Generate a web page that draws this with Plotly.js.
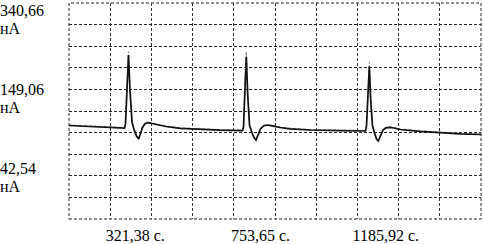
<!DOCTYPE html>
<html><head><meta charset="utf-8">
<script src="https://cdn.plot.ly/plotly-3.0.1.min.js"></script>
<style>html,body{margin:0;padding:0;background:#fff}</style>
</head><body><div id="chart" style="width:483px;height:244px"></div>
<script>
// time, s
const timeS = [92.7,165.2,237.7,284.2,287.7,292.9,298.0,303.2,310.1,317.0,325.7,333.3,339.5,346.4,355.0,365.4,379.2,399.9,427.5,475.8,544.8,613.9,691.5,695.0,700.1,704.6,709.5,715.7,722.6,731.2,738.1,745.0,753.6,764.0,776.1,793.3,820.9,855.4,924.5,1028.0,1116.0,1119.5,1124.6,1129.1,1134.0,1140.2,1147.1,1154.0,1160.2,1167.1,1176.4,1186.8,1198.2,1214.4,1235.1,1304.1,1373.1,1442.2,1514.6];
// measured current, nA (solid black)
const currentNA = [60.54,57.87,55.44,54.47,64.18,158.76,231.52,146.64,69.03,50.84,35.07,27.80,38.71,55.69,64.66,67.33,65.39,61.75,58.11,53.75,50.59,49.14,47.93,56.90,151.49,227.88,134.51,61.75,45.99,31.43,25.37,37.50,52.05,59.33,61.75,59.81,55.69,52.53,49.62,47.93,47.20,59.33,146.64,203.63,122.38,59.33,42.35,27.80,22.95,33.86,49.62,54.96,56.17,54.47,50.84,46.47,42.83,40.41,38.71];
// second current trace, nA (grey dashed)
const currentNA2 = [61.5,58.9,56.4,55.5,66.0,163.0,240.0,150.0,70.0,51.8,36.0,28.8,39.7,56.7,65.6,68.3,66.4,62.7,59.1,54.7,51.6,50.1,48.9,58.0,156.0,240.0,138.0,62.7,47.0,32.4,26.4,38.5,53.0,60.3,62.7,60.8,56.7,53.5,50.6,48.9,48.2,60.3,150.0,214.5,126.0,60.3,43.3,28.8,24.0,34.8,50.6,55.9,57.1,55.5,51.8,47.5,43.8,41.4,39.7];

const xTickVals = [321.38, 753.65, 1185.92];
const xTickText = ['321,38 с.', '753,65 с.', '1185,92 с.'];
const yTickVals = [340.66, 149.06, -42.54];
const yTickText = ['340,66', '149,06', '42,54'];
const yUnit = 'нА';

const xRange = [92.7, 1514.6];
const yRange = [-166.23, 357.64];
const nDiv = 10;

const font = {family: 'Liberation Serif, Times New Roman, serif', size: 16, color: '#000'};
const gridDash = '3px,2px';

const traces = [
  {x: timeS, y: currentNA2, mode: 'lines', line: {color: '#8a8a8a', width: 1.2, dash: '3px,2px'}, hoverinfo: 'skip'},
  {x: timeS, y: currentNA, mode: 'lines', line: {color: '#111', width: 1.7}, hoverinfo: 'skip'}
];

const annotations = [];
yTickVals.forEach((v, i) => {
  annotations.push({xref: 'paper', yref: 'y', x: -69/412, y: v, text: yTickText[i], showarrow: false,
    xanchor: 'left', yanchor: 'middle', align: 'left', borderpad: 0, borderwidth: 0, font: font});
  annotations.push({xref: 'paper', yref: 'y', x: -69/412, y: v, yshift: -18, text: yUnit, showarrow: false,
    xanchor: 'left', yanchor: 'middle', align: 'left', borderpad: 0, borderwidth: 0, font: font});
});

const layout = {
  width: 483, height: 244,
  margin: {l: 69, r: 2, t: 3, b: 25, pad: 0},
  paper_bgcolor: '#fff', plot_bgcolor: '#fff',
  showlegend: false,
  font: font,
  xaxis: {
    range: xRange, showline: false, zeroline: false, showgrid: false,
    tickmode: 'array', tickvals: xTickVals, ticktext: xTickText, ticks: '',
    ticklabelstandoff: 5, tickfont: font,
    minor: {tick0: xRange[0], dtick: (xRange[1]-xRange[0])/nDiv, showgrid: true, gridcolor: '#333', griddash: gridDash, gridwidth: 1, ticks: ''}
  },
  yaxis: {
    range: yRange, showline: false, zeroline: false, showticklabels: false, ticks: '',
    tick0: yRange[0], dtick: (yRange[1]-yRange[0])/nDiv,
    showgrid: true, gridcolor: '#222', griddash: gridDash, gridwidth: 1
  },
  shapes: [
    {type: 'rect', xref: 'paper', yref: 'paper', x0: 0, x1: 1, y0: 0, y1: 1, layer: 'below',
     line: {color: '#222', width: 1, dash: gridDash}}
  ],
  annotations: annotations
};

Plotly.newPlot('chart', traces, layout, {staticPlot: true, displayModeBar: false});
</script></body></html>
